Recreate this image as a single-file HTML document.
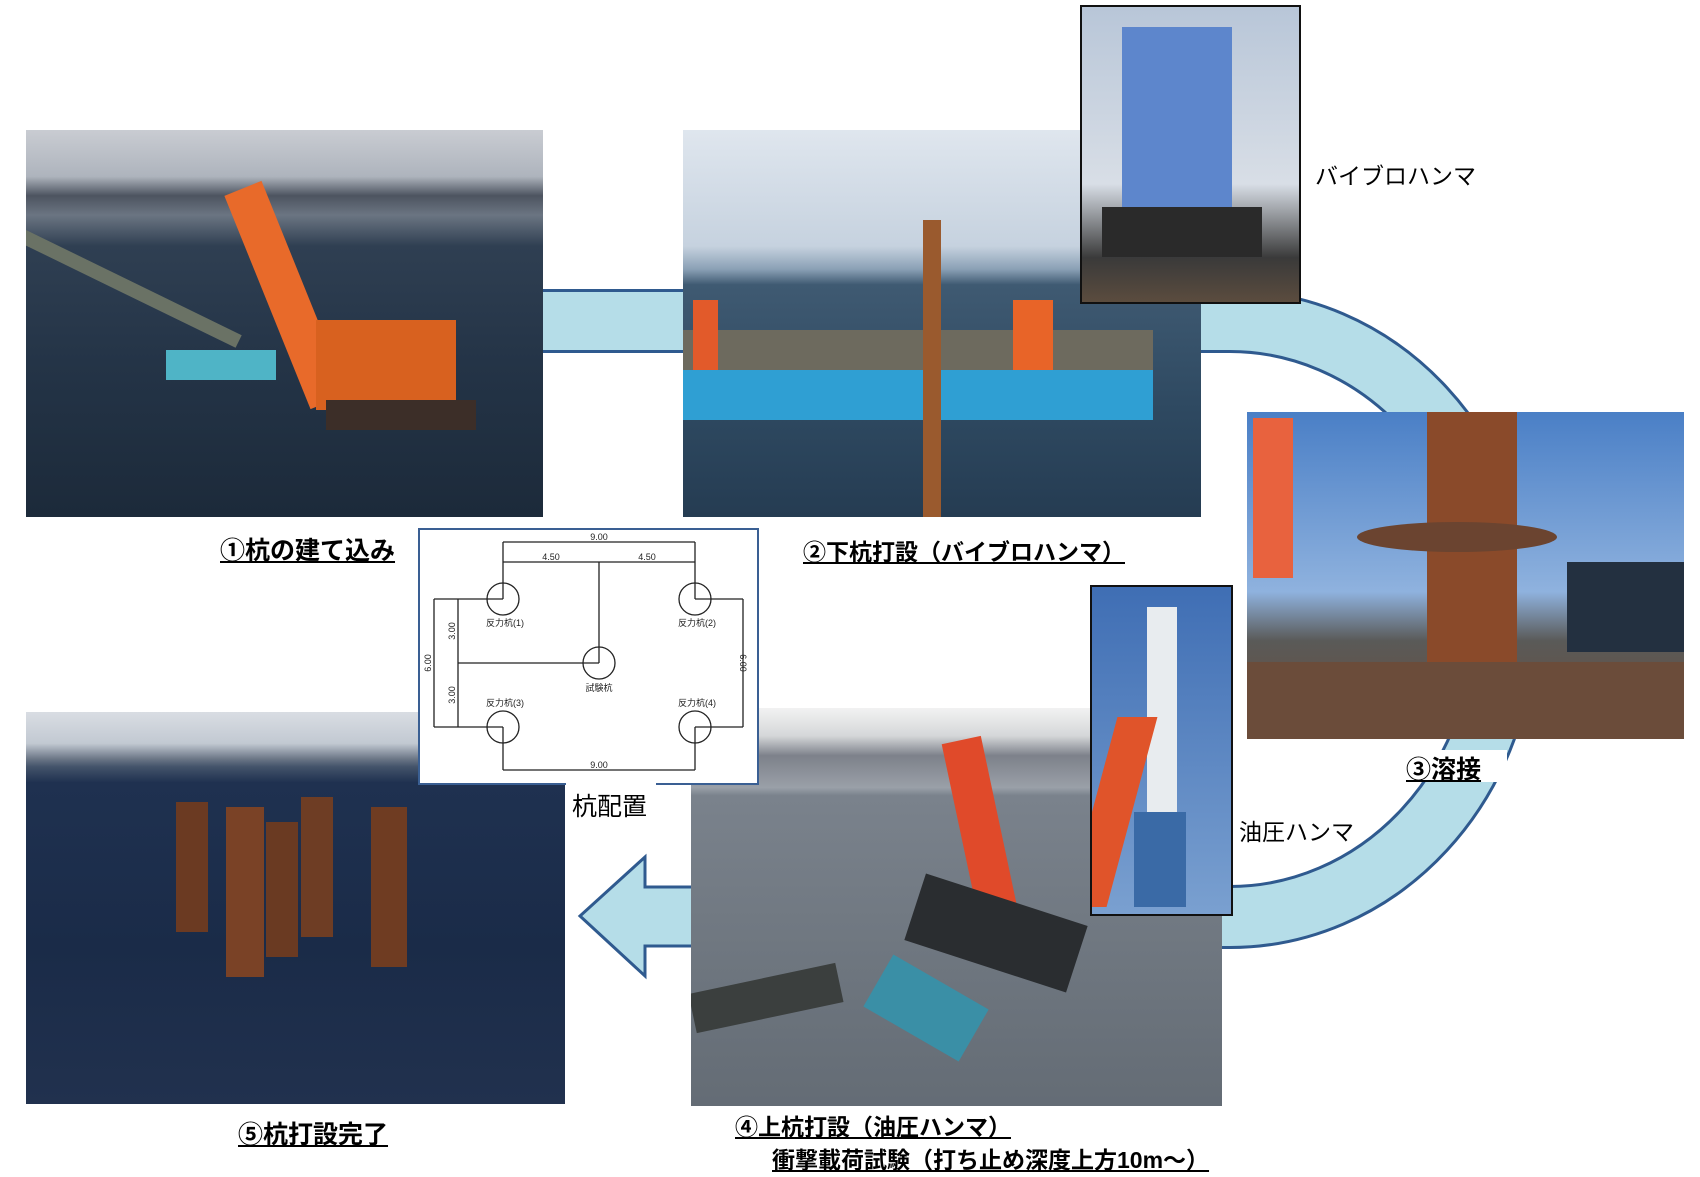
<!DOCTYPE html>
<html><head><meta charset="utf-8"><style>
body{margin:0;width:1700px;height:1177px;background:#fff;position:relative;overflow:hidden;font-family:"Liberation Sans","Noto Sans CJK JP",sans-serif}
.p{position:absolute;overflow:hidden}
.lbl{position:absolute;font-weight:bold;font-size:23px;text-decoration:underline;white-space:nowrap;color:#000}
.t{position:absolute;font-size:22px;white-space:nowrap;color:#000}
</style></head><body>
<svg width="1700" height="1177" style="position:absolute;left:0;top:0">
<path d="M540 321 H1230 A275 298 0 0 1 1230 917 H1200" fill="none" stroke="#2f5a8f" stroke-width="64"/>
<path d="M540 321 H1230 A275 298 0 0 1 1230 917 H1200" fill="none" stroke="#b5dde8" stroke-width="58"/>
<polygon points="700,887 645,887 645,857 580,916 645,976 645,946 700,946" fill="#b5dde8" stroke="#2f5a8f" stroke-width="3"/>
</svg>
<!-- photo1 -->
<div class="p" style="left:26px;top:130px;width:517px;height:387px;background:linear-gradient(#c9ccd2 0%,#aeb4bd 12%,#4d5460 17%,#6b7582 22%,#2f3f52 30%,#243447 60%,#1c2a3a 100%)">
<div style="position:absolute;left:0;top:100px;width:240px;height:14px;background:#6a7265;transform:rotate(26deg);transform-origin:0 0"></div>
<div style="position:absolute;left:240px;top:50px;width:40px;height:230px;background:#e86a2a;transform:rotate(-22deg)"></div>
<div style="position:absolute;left:290px;top:190px;width:140px;height:90px;background:#d8611f"></div>
<div style="position:absolute;left:300px;top:270px;width:150px;height:30px;background:#3c2e28"></div>
<div style="position:absolute;left:140px;top:220px;width:110px;height:30px;background:#4fb4c6"></div>
</div>
<!-- photo2 -->
<div class="p" style="left:683px;top:130px;width:518px;height:387px;background:linear-gradient(#dfe6ee 0%,#c6d2df 30%,#8aa0b5 36%,#3f5a72 40%,#2f4a62 70%,#253c52 100%)">
<div style="position:absolute;left:0;top:240px;width:470px;height:50px;background:#2f9fd3"></div>
<div style="position:absolute;left:0;top:200px;width:470px;height:40px;background:#6d6a5e"></div>
<div style="position:absolute;left:240px;top:90px;width:18px;height:300px;background:#9a5a2e"></div>
<div style="position:absolute;left:10px;top:170px;width:25px;height:70px;background:#e25a2a"></div>
<div style="position:absolute;left:330px;top:170px;width:40px;height:70px;background:#e86428"></div>
</div>
<!-- vibro inset -->
<div class="p" style="left:1080px;top:5px;width:217px;height:295px;border:2px solid #111;background:linear-gradient(#b8c6d8,#d8dee6 60%,#3a3a3a 85%,#5b4c3e)">
<div style="position:absolute;left:40px;top:20px;width:110px;height:220px;background:#5d86cc"></div>
<div style="position:absolute;left:20px;top:200px;width:160px;height:50px;background:#2a2a2a"></div>
</div>
<!-- photo3 -->
<div class="p" style="left:1247px;top:412px;width:437px;height:327px;background:linear-gradient(#4a7fc6,#8fb2de 55%,#5a5a58 70%,#6b4a38 100%)">
<div style="position:absolute;left:6px;top:6px;width:40px;height:160px;background:#e8623e"></div>
<div style="position:absolute;left:180px;top:0;width:90px;height:250px;background:#8a4a2a"></div>
<div style="position:absolute;left:110px;top:110px;width:200px;height:30px;background:#6b4430;border-radius:50%"></div>
<div style="position:absolute;left:320px;top:150px;width:117px;height:90px;background:#233040"></div>
<div style="position:absolute;left:0;top:250px;width:437px;height:77px;background:#6b4c3a"></div>
</div>
<!-- photo4 -->
<div class="p" style="left:691px;top:708px;width:531px;height:398px;background:linear-gradient(#f2f2f2 0%,#d5d7d9 7%,#7d818a 12%,#9aa0a8 20%,#7a828c 22%,#6f7780 60%,#646c75 100%)">
<div style="position:absolute;left:270px;top:30px;width:40px;height:190px;background:#e04a2a;transform:rotate(-12deg)"></div>
<div style="position:absolute;left:220px;top:190px;width:170px;height:70px;background:#2a2d30;transform:rotate(18deg)"></div>
<div style="position:absolute;left:180px;top:270px;width:110px;height:60px;background:#3a8fa6;transform:rotate(30deg)"></div>
<div style="position:absolute;left:0;top:270px;width:150px;height:40px;background:#3b3f3e;transform:rotate(-12deg)"></div>
</div>
<!-- hydraulic inset -->
<div class="p" style="left:1090px;top:585px;width:139px;height:327px;border:2px solid #111;background:linear-gradient(#3f6eb4,#7aa0d0)">
<div style="position:absolute;left:55px;top:20px;width:30px;height:210px;background:#e8ecef"></div>
<div style="position:absolute;left:42px;top:225px;width:52px;height:95px;background:#3a6aa6"></div>
<div style="position:absolute;left:0;top:130px;width:40px;height:190px;background:#e0542a;transform:skewX(-15deg)"></div>
</div>
<!-- photo5 -->
<div class="p" style="left:26px;top:712px;width:539px;height:392px;background:linear-gradient(#d9dde3 0%,#c2c9d2 8%,#6b7686 12%,#43536a 14%,#1f3150 18%,#1a2b48 60%,#21314e 100%)">
<div style="position:absolute;left:150px;top:90px;width:32px;height:130px;background:#6b3a22"></div>
<div style="position:absolute;left:200px;top:95px;width:38px;height:170px;background:#7a4226"></div>
<div style="position:absolute;left:240px;top:110px;width:32px;height:135px;background:#6a3a22"></div>
<div style="position:absolute;left:275px;top:85px;width:32px;height:140px;background:#6e3d24"></div>
<div style="position:absolute;left:345px;top:95px;width:36px;height:160px;background:#6f3c22"></div>
</div>
<!-- diagram -->
<div style="position:absolute;left:418px;top:528px;width:337px;height:253px;background:#fff;border:2px solid #3a5f93"></div>
<svg width="1700" height="1177" style="position:absolute;left:0;top:0" font-family="Liberation Sans, Noto Sans CJK JP, sans-serif" font-size="9">
<g stroke="#222" stroke-width="1.3" fill="none">
<path d="M503 542H695M503 562H695M503 542V599M695 542V599M599 562V663"/>
<path d="M434 599H503M434 727H503M434 599V727M458 599V727M458 663H599"/>
<path d="M695 599H743M695 727H743M743 599V727"/>
<path d="M503 727V770M695 727V770M503 770H695"/>
<circle cx="503" cy="599" r="16"/><circle cx="695" cy="599" r="16"/><circle cx="599" cy="663" r="16"/><circle cx="503" cy="727" r="16"/><circle cx="695" cy="727" r="16"/>
</g>
<g fill="#222">
<text x="599" y="540" text-anchor="middle">9.00</text>
<text x="551" y="560" text-anchor="middle">4.50</text>
<text x="647" y="560" text-anchor="middle">4.50</text>
<text x="599" y="768" text-anchor="middle">9.00</text>
<text x="505" y="626" text-anchor="middle">反力杭(1)</text>
<text x="697" y="626" text-anchor="middle">反力杭(2)</text>
<text x="599" y="691" text-anchor="middle">試験杭</text>
<text x="505" y="706" text-anchor="middle">反力杭(3)</text>
<text x="697" y="706" text-anchor="middle">反力杭(4)</text>
<text transform="translate(431 663) rotate(-90)" text-anchor="middle">6.00</text>
<text transform="translate(455 631) rotate(-90)" text-anchor="middle">3.00</text>
<text transform="translate(455 695) rotate(-90)" text-anchor="middle">3.00</text>
<text transform="translate(740 663) rotate(90)" text-anchor="middle">6.00</text>
</g>
</svg>
<div style="position:absolute;left:566px;top:783px;width:90px;height:36px;background:#fff"></div>
<div class="t" style="left:572px;top:787px;font-size:25px">杭配置</div>
<div class="lbl" style="left:220px;top:531px;font-size:25px">①杭の建て込み</div>
<div class="lbl" style="left:803px;top:533px">②下杭打設（バイブロハンマ）</div>
<div style="position:absolute;left:1400px;top:750px;width:107px;height:32px;background:#fff"></div>
<div class="lbl" style="left:1406px;top:750px;font-size:25px">③溶接</div>
<div class="lbl" style="left:735px;top:1108px">④上杭打設（油圧ハンマ）</div>
<div class="lbl" style="left:772px;top:1141px">衝撃載荷試験（打ち止め深度上方10m～）</div>
<div class="lbl" style="left:238px;top:1115px;font-size:25px">⑤杭打設完了</div>
<div class="t" style="left:1315px;top:157px;font-size:23px">バイブロハンマ</div>
<div class="t" style="left:1239px;top:813px;font-size:23px">油圧ハンマ</div>
</body></html>
